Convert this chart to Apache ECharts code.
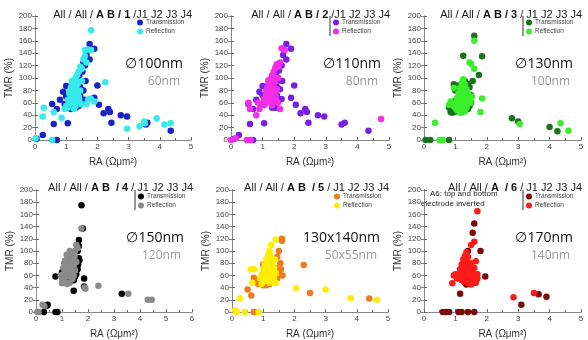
<!DOCTYPE html>
<html><head><meta charset="utf-8">
<script src="https://cdn.jsdelivr.net/npm/echarts@6/dist/echarts.min.js"></script>
<style>html,body{margin:0;padding:0;background:#fff}#c{width:588px;height:340px}</style>
</head><body><div id="c"></div>
<script>
// ---- data ----
const panelIds = ['1','2','3','4','5','6'];
const titleBold = ['A B / 1','A B / 2','A B / 3','A B  / 4','A B  / 5','A  / 6'];
const titleTail = [' /J1 J2 J3 J4',' /J1 J2 J3 J4',' / J1 J2 J3 J4',' / J1 J2 J3 J4',' / J1 J2 J3 J4',' / J1 J2 J3 J4'];
const sizeMain = ['\u2205100nm','\u2205110nm','\u2205130nm','\u2205150nm','130x140nm','\u2205170nm'];
const sizeSub = ['60nm','80nm','100nm','120nm','50x55nm','140nm'];
const xMax = [5,5,5,6,5,5];
const yTicks = [0,20,40,60,80,100,120,140,160,180,200];
const transColors = ['#1c22c4','#7a1ee6','#17741b','#000000','#ee7a1a','#7a0c0c'];
const reflColors = ['#38eaea','#f22ee6','#3aee2a','#8a8a8a','#ffee00','#ff1a1a'];

const trans1 = [[0.05,2],[0.25,8],[0.7,0],[0.55,58],[0.6,26],[0.7,50],[0.8,65],[1.05,27],[0.9,78],[1.0,87],[1.75,155],[1.9,147],[1.65,137],[1.75,130],[1.6,120],[2.0,88],[1.9,68],[2.05,57],[2.2,43],[2.35,50],[2.4,45],[2.45,28],[2.75,40],[2.95,38],[3.55,25],[3.6,28],[4.35,15],
 [1.1,60],[1.15,70],[1.2,80],[1.25,65],[1.3,75],[1.35,90],[1.4,55],[1.45,85],[1.5,95],[1.2,55],[1.3,52],[1.4,62],[1.1,85],[1.25,95],[1.35,100],[1.45,70],[1.55,80],[1.5,60],[1.15,50],[1.6,65],[1.3,60],[1.0,70],[1.05,60],[1.2,72],[1.38,78],[1.42,105],[1.52,110],[1.55,125],[1.62,95],[0.95,58],[1.28,88]];
const refl1 = [[0.02,3],[0.25,38],[0.28,52],[0.55,0],[0.6,45],[0.85,36],[1.8,177],[1.6,145],[1.7,146],[1.8,145],[1.65,125],[1.5,115],[1.7,65],[1.78,67],[1.65,58],[1.9,62],[2.25,93],[2.95,18],[3.35,22],[3.5,30],[3.9,35],[4.15,25],[4.35,27],[3.52,27],[0.95,50],
 [1.0,55],[1.05,65],[1.1,75],[1.15,85],[1.2,90],[1.25,95],[1.3,100],[1.35,105],[1.4,110],[1.45,118],[1.5,95],[1.45,80],[1.4,70],[1.35,60],[1.3,55],[1.25,50],[1.2,60],[1.15,68],[1.1,58],[1.05,52],[1.2,78],[1.28,82],[1.33,88],[1.38,92],[1.23,70],[1.18,95],[1.3,72],[1.42,65],[1.48,58],[1.12,80],[1.27,62],[1.36,76],[1.55,130],[1.6,135],[1.22,86],[1.32,94]];

const trans2 = [[0.1,2],[0.25,8],[0.7,0],[0.55,58],[0.6,26],[0.7,50],[0.8,65],[1.05,27],[0.9,78],[1.0,87],[1.75,155],[1.9,147],[1.65,137],[1.75,130],[1.6,120],[2.0,88],[1.9,68],[2.05,57],[2.2,43],[2.35,50],[2.4,45],[2.45,28],[2.75,40],[2.95,38],[3.5,25],[3.6,28],[4.35,15],
 [1.1,62],[1.15,72],[1.2,82],[1.25,66],[1.3,76],[1.35,90],[1.4,52],[1.45,86],[1.5,96],[1.3,52],[1.1,86],[1.45,72],[1.55,82],[1.5,62],[1.6,66],[1.0,72],[1.05,62],[1.42,105],[1.52,112],[1.62,95],[0.95,58],[1.28,88]];
const refl2 = [[0.0,0],[0.15,3],[0.5,0],[0.62,0],[0.55,60],[0.6,50],[0.8,40],[0.9,50],[1.6,148],[1.7,145],[1.55,50],[4.75,34],[0.85,60],
 [1.0,58],[1.05,66],[1.1,74],[1.15,84],[1.2,92],[1.25,98],[1.3,104],[1.35,110],[1.4,116],[1.45,122],[1.5,100],[1.45,82],[1.4,72],[1.35,62],[1.3,56],[1.25,60],[1.2,64],[1.15,70],[1.1,60],[1.05,56],[1.2,78],[1.28,84],[1.33,88],[1.38,94],[1.23,72],[1.18,96],[1.3,74],[1.42,66],[1.48,60],[1.12,80],[1.27,66],[1.36,78],[1.22,88],[1.32,96],[1.4,100],[1.25,86],[1.5,118],[1.55,125]];

const trans3 = [[0.05,0],[0.2,0],[0.8,0],[0.8,52],[0.85,45],[0.95,90],[1.25,136],[1.6,168],[1.85,135],[1.75,105],[1.55,95],[1.4,50],[2.8,35],[3.0,30],[4.0,21],[4.25,14],
 [0.9,44],[1.0,46],[1.1,48],[1.2,45],[1.3,48],[1.45,55],[1.5,60],[1.5,72],[1.45,85],[1.4,90],[1.3,95],[1.1,88],[1.0,80],[0.95,62],[1.25,52],[1.35,50]];
const refl3 = [[0.35,28],[0.5,0],[0.6,0],[0.8,57],[0.85,62],[1.6,160],[1.45,125],[1.5,123],[1.6,115],[1.85,67],[1.8,45],[3.05,26],[4.35,27],[4.6,15],[0.95,84],
 [0.95,55],[1.0,60],[1.05,68],[1.1,76],[1.15,84],[1.2,92],[1.25,98],[1.3,90],[1.35,82],[1.4,74],[1.45,66],[1.4,58],[1.35,52],[1.3,46],[1.2,50],[1.1,54],[1.05,48],[1.15,62],[1.2,70],[1.25,78],[1.3,66],[1.35,60],[1.0,52],[1.12,70],[1.22,58],[1.28,72],[1.18,80],[1.32,76],[1.42,64],[1.08,62],[1.25,88],[1.38,70],[1.15,44],[1.48,60],[1.52,70]];

const trans4 = [[0.3,0],[0.4,10],[0.45,12],[0.75,0],[0.82,0],[0.75,58],[1.75,175],[1.8,137],[1.65,118],[1.65,108],[1.6,100],[1.65,88],[1.67,85],[1.45,35],[1.85,55],[1.85,42],[3.3,30],[1.4,58],[1.3,55],
 [1.2,52],[1.25,50],[1.35,56],[1.5,58],[1.55,62],[1.6,70],[1.62,78],[1.0,65],[1.1,58],[1.45,52]];
const refl4 = [[0.1,0],[0.05,0],[0.25,12],[0.32,10],[1.75,137],[1.55,110],[1.6,105],[1.9,38],[1.87,40],[2.4,43],[3.55,30],[4.3,20],[4.45,20],
 [1.0,55],[1.05,62],[1.1,70],[1.15,78],[1.2,86],[1.25,94],[1.3,100],[1.35,92],[1.4,84],[1.45,76],[1.5,68],[1.45,60],[1.4,54],[1.3,48],[1.2,46],[1.1,50],[1.0,47],[1.15,60],[1.2,68],[1.25,76],[1.3,66],[1.35,60],[1.05,72],[1.12,84],[1.22,58],[1.28,82],[1.18,94],[1.32,74],[1.42,66],[1.08,80],[1.25,88],[1.38,70],[1.48,90],[1.5,100],[0.95,60],[1.55,82]];

const trans5 = [[0.7,0],[0.75,0],[0.5,37],[0.62,27],[0.7,56],[0.8,48],[0.9,48],[1.0,78],[1.6,120],[1.6,117],[1.5,100],[1.55,80],[1.57,70],[1.62,60],[2.3,77],[2.5,31],[4.4,22],
 [0.75,52],[0.85,46],[1.0,44],[1.1,44],[1.2,46],[1.3,50],[1.45,55],[1.5,65],[1.45,90],[1.4,72],[1.0,62]];
const refl5 = [[0.1,3],[0.15,0],[0.25,22],[0.4,0],[0.85,0],[0.6,70],[0.7,70],[0.65,48],[1.4,119],[1.25,110],[1.2,100],[2.05,39],[3.0,37],[3.8,23],[4.65,20],
 [0.9,55],[0.95,62],[1.0,70],[1.05,78],[1.1,86],[1.15,92],[1.2,96],[1.25,88],[1.3,80],[1.35,72],[1.4,64],[1.35,56],[1.3,50],[1.2,48],[1.1,52],[1.0,50],[1.05,64],[1.15,70],[1.2,78],[1.25,66],[1.3,60],[0.95,46],[1.12,80],[1.22,58],[1.28,72],[1.18,86],[1.32,74],[1.08,60],[1.38,86],[1.4,48]];

const trans6 = [[0.6,0],[0.7,0],[0.8,0],[1.1,0],[1.2,0],[1.4,0],[1.6,0],[1.15,30],[1.6,145],[1.4,100],[1.8,100],[1.95,58],[3.1,12],[3.65,29],[3.9,25],[1.55,130],
 [1.3,48],[1.35,55],[1.4,62],[1.45,50],[1.5,58],[1.35,45],[1.25,55],[1.45,65],[1.3,60]];
const refl6 = [[0.9,47],[0.95,60],[1.7,165],[1.5,110],[1.6,115],[1.65,83],[2.85,24],[3.5,31],
 [1.05,55],[1.1,62],[1.15,70],[1.2,78],[1.25,86],[1.3,92],[1.35,85],[1.4,78],[1.45,70],[1.5,62],[1.55,55],[1.6,48],[1.5,45],[1.4,48],[1.3,50],[1.2,52],[1.1,58],[1.25,66],[1.35,70],[1.45,58],[1.55,68],[1.62,58],[1.7,55],[1.65,48],[1.2,64],[1.3,76],[1.4,90],[1.5,80],[1.28,60],[1.38,62],[1.18,56],[1.42,72],[1.6,72],[1.0,62],[1.7,62],[1.35,98]];

const transData = [trans1,trans2,trans3,trans4,trans5,trans6];
const reflData = [refl1,refl2,refl3,refl4,refl5,refl6];

// ---- layout ----
const grids = [
  {left:35, top:16, width:156, height:124},
  {left:231, top:16, width:158, height:124},
  {left:424, top:16, width:157, height:124},
  {left:36, top:190, width:156, height:123},
  {left:232, top:190, width:156, height:123},
  {left:424, top:190, width:157, height:124}
];
const titleY = [4,4,4,177,177,177];

const chart = echarts.init(document.getElementById('c'), null, {renderer:'canvas'});
const xAxis=[], yAxis=[], series=[], title=[], legend=[], graphic=[];
grids.forEach((g,i)=>{
  xAxis.push({type:'value', gridIndex:i, min:0, max:xMax[i], interval:1, position:'bottom',
    name:'RA (\u03A9\u03BCm\u00B2)', nameLocation:'middle', nameGap:17,
    nameTextStyle:{fontSize:10, color:'#333', fontFamily:'Liberation Sans'},
    axisLine:{lineStyle:{color:'#666'}}, axisTick:{inside:true, length:3, lineStyle:{color:'#666'}},
    minorTick:{show:true, splitNumber:2, length:2},
    axisLabel:{fontSize:8, color:'#444', margin:3, fontFamily:'Liberation Sans'}, splitLine:{show:false}});
  xAxis.push({type:'value', gridIndex:i, min:0, max:xMax[i], interval:1, position:'top',
    axisLine:{show:true, lineStyle:{color:'#888'}}, axisTick:{show:false}, axisLabel:{show:false}, splitLine:{show:false}});
  yAxis.push({type:'value', gridIndex:i, min:0, max:200, interval:20, position:'left',
    name:'TMR (%)', nameLocation:'middle', nameGap:21,
    nameTextStyle:{fontSize:10, color:'#333', fontFamily:'Liberation Sans'},
    axisLine:{lineStyle:{color:'#666'}}, axisTick:{inside:true, length:3, lineStyle:{color:'#666'}},
    axisLabel:{fontSize:8, color:'#444', margin:3, fontFamily:'Liberation Sans'}, splitLine:{show:false}});
  yAxis.push({type:'value', gridIndex:i, min:0, max:200, interval:20, position:'right',
    axisLine:{show:true, lineStyle:{color:'#888'}}, axisTick:{show:true, inside:true, length:3, lineStyle:{color:'#888'}},
    axisLabel:{show:false}, splitLine:{show:false}});
  series.push({type:'scatter', name:'Transmission'+panelIds[i], xAxisIndex:2*i, yAxisIndex:2*i,
    data:transData[i], symbolSize:6.5, itemStyle:{color:transColors[i], opacity:1}});
  series.push({type:'scatter', name:'Reflection'+panelIds[i], xAxisIndex:2*i, yAxisIndex:2*i,
    data:reflData[i], symbolSize:6.5, itemStyle:{color:reflColors[i], opacity:1}});
  const right = g.left + g.width;
  title.push({text:'{n|All / All / }{b|'+titleBold[i]+'}{n|'+titleTail[i]+'}',
    left:right-4, top:titleY[i], textAlign:'right',
    textStyle:{fontWeight:'normal', fontSize:11,
      rich:{n:{fontSize:11, color:'#222', fontWeight:'normal', fontFamily:'Liberation Sans'},
            b:{fontSize:11, color:'#111', fontWeight:'bold', fontFamily:'Liberation Sans'}}}});
  legend.push({data:['Transmission'+panelIds[i],'Reflection'+panelIds[i]], orient:'vertical',
    left:g.left+102, top:g.top+3, itemWidth:6, itemHeight:6, itemGap:2, icon:'circle',
    formatter:n=>n.replace(/\d$/,''), textStyle:{fontSize:6.5, color:'#444', padding:[0,0,0,-2]}, padding:0});
  if(i!==0 && i!==4){
    graphic.push({type:'line', shape:{x1:g.left+99, y1:g.top, x2:g.left+99, y2:g.top+20}, style:{stroke:'#333', lineWidth:1}});
  }
  graphic.push({type:'text', x:right-8, y:g.top+48, style:{text:sizeMain[i], textAlign:'right', textVerticalAlign:'middle', fontSize:14, fill:'#111', fontFamily:'Open Sans'}});
  graphic.push({type:'text', x:right-11, y:g.top+66, style:{text:sizeSub[i], textAlign:'right', textVerticalAlign:'middle', fontSize:12, fill:'#999', fontFamily:'Open Sans'}});
});
graphic.push({type:'text', x:430, y:194, style:{text:'A6: top and bottom', textVerticalAlign:'middle', fontSize:8, fill:'#222', fontFamily:'Liberation Sans'}});
graphic.push({type:'text', x:421, y:204, style:{text:'electrode inverted', textVerticalAlign:'middle', fontSize:8, fill:'#222', fontFamily:'Liberation Sans'}});

chart.setOption({animation:false, backgroundColor:'#fff', grid:grids, xAxis, yAxis, series, title, legend, graphic});
</script></body></html>
